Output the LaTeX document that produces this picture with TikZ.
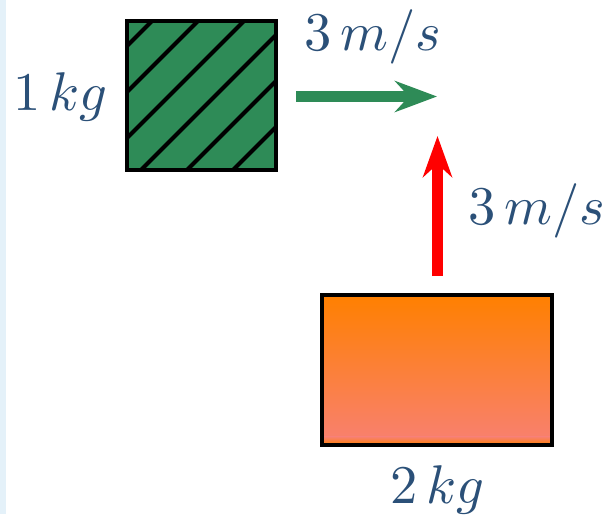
\documentclass[tikz,border=0pt]{standalone}
\usetikzlibrary{arrows.meta}
\definecolor{stripblue}{RGB}{228,241,249}
\definecolor{boxgreen}{RGB}{46,139,87}
\definecolor{txtblue}{RGB}{43,80,120}
\definecolor{boxorange}{RGB}{255,128,0}
\definecolor{boxsalmon}{RGB}{248,128,114}
\tikzset{
  massbox/.style={draw=black, line width=4pt, rectangle, inner sep=0pt},
  lbl/.style={text=txtblue, inner sep=0pt, scale=5.45},
  velarrow/.style={line width=11pt},
}
\begin{document}
\begin{tikzpicture}[x=1pt,y=-1pt]
\useasboundingbox (0,0) rectangle (612,514);
\fill[stripblue] (0,0) rectangle (6,514);
% green 1 kg box
\node[massbox, fill=boxgreen, minimum width=149pt, minimum height=149pt,
  path picture={
    \foreach \c in {-124,-78,-32,14,60,106}{
      \draw[line width=4pt, black] (\c-150,150) -- (\c+150,-150);
    }
  }] (m1) at (201.5,95.5) {};
% orange 2 kg box
\node[massbox, minimum width=230pt, minimum height=150pt,
  path picture={
    \shade[top color=boxorange, bottom color=boxsalmon]
      (path picture bounding box.north west) rectangle ([yshift=8pt]path picture bounding box.south east);
    \shade[top color=boxsalmon, bottom color=boxorange]
      ([yshift=8.5pt]path picture bounding box.south west) rectangle (path picture bounding box.south east);
  }] (m2) at (437,370) {};
% labels
\node[lbl, anchor=base] (l1) at (60.5,110) {$1\,kg$};
\node[lbl, anchor=base] (l2) at (437.5,503) {$2\,kg$};
\node[lbl, anchor=base] (v1) at (372.5,50) {$3\,m/s$};
\node[lbl, anchor=base] (v2) at (537,224) {$3\,m/s$};
% velocity arrows
\coordinate (gs) at (296,96.5);
\coordinate (gt) at (437,96.5);
\coordinate (rs) at (437.5,276);
\coordinate (rt) at (437.5,136);
\draw[velarrow, boxgreen, -{Stealth[length=42pt, width=31pt, inset=14pt]}] (gs) -- (gt);
\draw[velarrow, red, -{Stealth[length=41pt, width=29pt, inset=13pt]}] (rs) -- (rt);
\end{tikzpicture}
\end{document}
